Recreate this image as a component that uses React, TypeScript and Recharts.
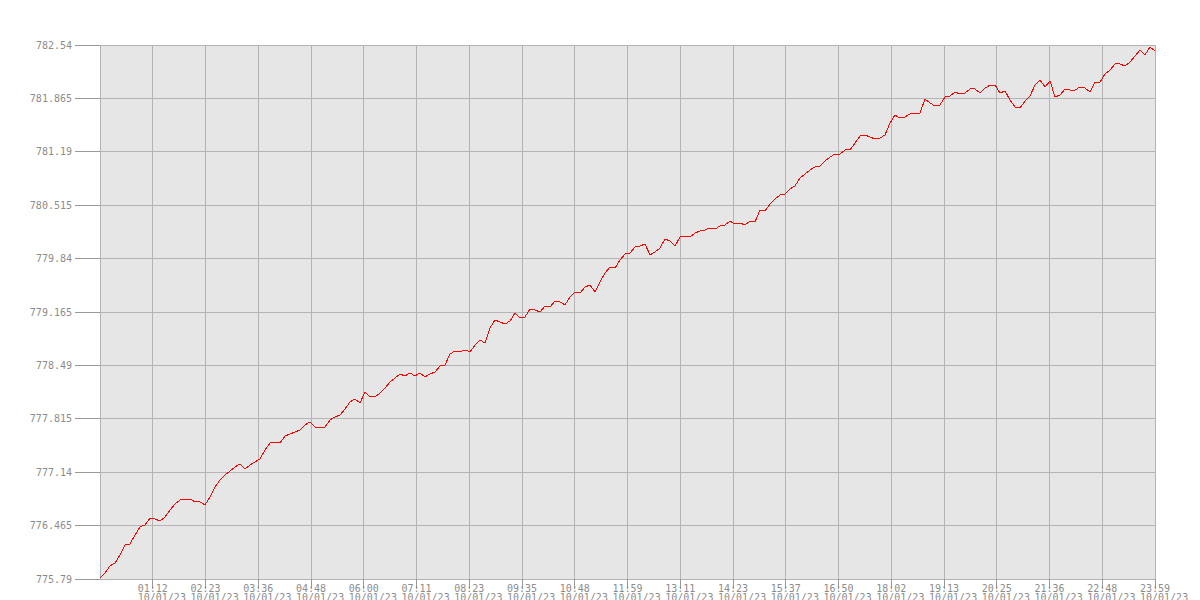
import { CartesianGrid, Line, LineChart, XAxis, YAxis } from "recharts";

document.body.style.margin = "0";

// price, one point every ~6.8 minutes from 00:00 to 23:59
const PRICES = [
  775.803, 775.866, 775.955, 775.992, 776.094, 776.22, 776.233, 776.346, 776.448, 776.473,
  776.561, 776.549, 776.523, 776.574, 776.662, 776.738, 776.789, 776.789, 776.801, 776.764,
  776.764, 776.726, 776.827, 776.953, 777.042, 777.105, 777.155, 777.206, 777.244, 777.181,
  777.231, 777.269, 777.307, 777.421, 777.509, 777.522, 777.509,
  777.598, 777.623, 777.648, 777.674, 777.737, 777.775, 777.712, 777.699, 777.712, 777.8,
  777.838, 777.863, 777.939, 778.028, 778.065, 778.015, 778.154, 778.091, 778.091, 778.141,
  778.204, 778.28, 778.331, 778.381, 778.356, 778.394, 778.356, 778.394, 778.344, 778.381,
  778.407, 778.483, 778.495, 778.634, 778.672, 778.66,
  778.685, 778.66, 778.748, 778.811, 778.773, 778.963, 779.064, 779.039, 779.013, 779.051,
  779.152, 779.089, 779.102, 779.203, 779.19, 779.165, 779.241, 779.228, 779.304, 779.292,
  779.254, 779.355, 779.418, 779.405, 779.481, 779.506, 779.418, 779.544, 779.658, 779.734,
  779.721, 779.822, 779.898, 779.911, 779.987, 779.999,
  780.025, 779.886, 779.924, 779.974, 780.088, 780.063, 779.999, 780.113, 780.126, 780.113,
  780.164, 780.189, 780.202, 780.227, 780.214, 780.252, 780.265, 780.315, 780.277, 780.29,
  780.265, 780.315, 780.303, 780.454, 780.442, 780.53, 780.593, 780.644, 780.657, 780.72,
  780.758, 780.859, 780.909, 780.96, 780.998, 781.011,
  781.074, 781.124, 781.162, 781.162, 781.213, 781.213, 781.301, 781.39, 781.402, 781.377,
  781.352, 781.364, 781.402, 781.554, 781.655, 781.617, 781.63, 781.668, 781.668, 781.68,
  781.857, 781.807, 781.769, 781.782, 781.883, 781.895, 781.946, 781.921, 781.933, 781.984,
  781.984, 781.933, 781.996, 782.034, 782.034, 781.933,
  781.959, 781.845, 781.756, 781.744, 781.832, 781.895, 782.034, 782.098, 782.009, 782.085,
  781.883, 781.908, 781.984, 781.971, 781.971, 782.009, 781.996, 781.946, 782.072, 782.072,
  782.173, 782.224, 782.3, 782.3, 782.275, 782.325, 782.401, 782.477, 782.414, 782.515,
  782.464,
];

const DAY_END = 1439; // minutes, 23:59

const X_LABELS = [
  "", "01:12", "02:23", "03:36", "04:48", "06:00", "07:11", "08:23", "09:35", "10:48",
  "11:59", "13:11", "14:23", "15:37", "16:50", "18:02", "19:13", "20:25", "21:36", "22:48", "23:59",
];
const DATE_LABEL = "10/01/23";

const Y_TICKS = [775.79, 776.465, 777.14, 777.815, 778.49, 779.165, 779.84, 780.515, 781.19, 781.865, 782.54];

const xTicks = X_LABELS.map((_, i) => (i * DAY_END) / (X_LABELS.length - 1));
const data = PRICES.map((v, i) => ({ t: (i * DAY_END) / (PRICES.length - 1), v }));

const FONT = "'DejaVu Sans Mono', monospace";

function TimeTick(props: any) {
  const { x, y, payload } = props;
  const i = Math.round(payload.value / (DAY_END / (X_LABELS.length - 1)));
  if (i === 0) return null;
  const left = x - 15;
  return (
    <g>
      <line x1={x} y1={y} x2={x} y2={y + 10} stroke="#999" shapeRendering="crispEdges" />
      <text x={x} y={y + 13} textAnchor="middle" fontFamily={FONT} fontSize={10} fill="#8c8c8c">
        {X_LABELS[i]}
      </text>
      <text x={left} y={y + 22} textAnchor="start" fontFamily={FONT} fontSize={10} fill="#8c8c8c">
        {DATE_LABEL}
      </text>
    </g>
  );
}

export default function App() {
  return (
    <div style={{ width: 1200, height: 600, background: "#fff" }}>
      <LineChart width={1200} height={600} data={data} margin={{ top: 45, right: 45, left: 0, bottom: 0 }}>
        <CartesianGrid fill="#e6e6e6" stroke="#b4b4b4" strokeDasharray="" shapeRendering="crispEdges" />
        <XAxis
          dataKey="t"
          type="number"
          domain={[0, DAY_END]}
          ticks={xTicks}
          interval={0}
          height={21}
          axisLine={false}
          tickLine={false}
          tickSize={0}
          tickMargin={0}
          tick={<TimeTick />}
        />
        <YAxis
          type="number"
          domain={[775.79, 782.54]}
          ticks={Y_TICKS}
          interval={0}
          width={100}
          axisLine={false}
          tickSize={25}
          tickMargin={3}
          tickLine={{ stroke: "#999", shapeRendering: "crispEdges" }}
          tick={{ fontFamily: FONT, fontSize: 10, fill: "#8c8c8c" }}
          tickFormatter={(v: number) => String(v)}
        />
        <Line
          type="linear"
          dataKey="v"
          stroke="#ff0000"
          strokeWidth={1}
          dot={false}
          shapeRendering="crispEdges"
          isAnimationActive={false}
        />
      </LineChart>
    </div>
  );
}
